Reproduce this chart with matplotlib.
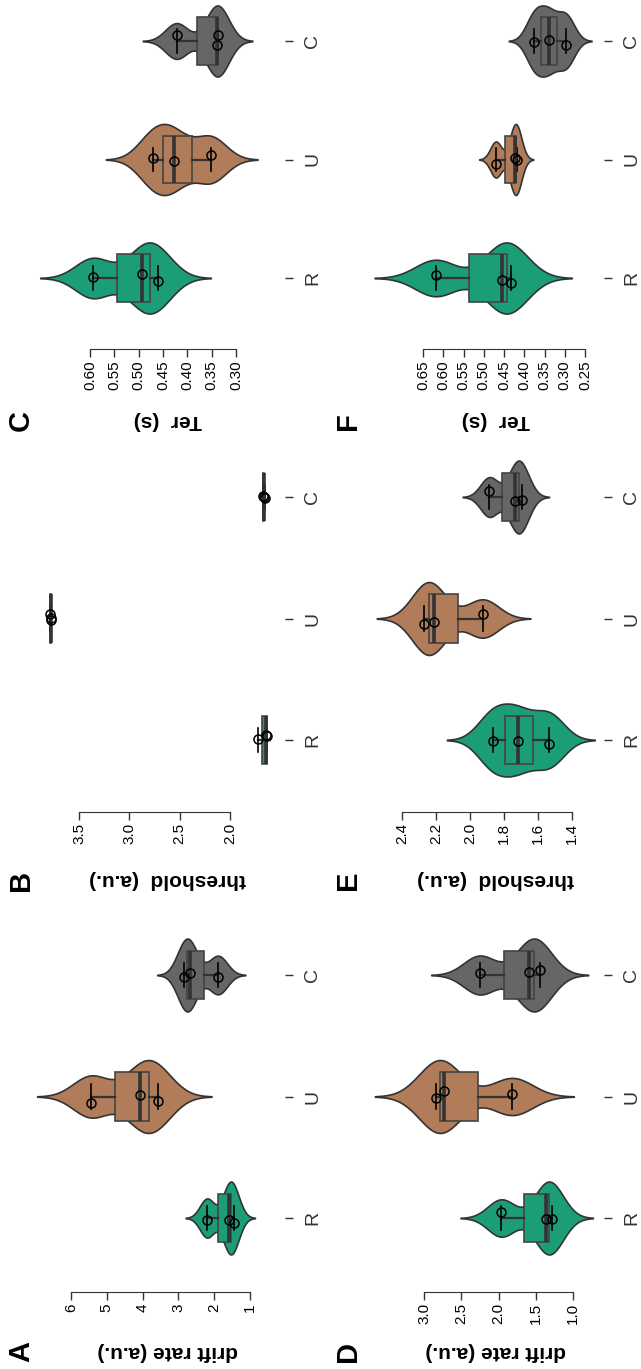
import numpy as np
import matplotlib
matplotlib.use("Agg")
import matplotlib.pyplot as plt

plt.rcParams['font.family'] = ['Liberation Sans', 'DejaVu Sans']

W, H = 641, 1369

groups = ["R", "U", "C"]
colors = ["#1b9e77", "#b07c5a", "#666666"]

# values per group (R, U, C), 3 subjects each
drift_a = [[2.20, 1.60, 1.46], [5.44, 4.08, 3.58], [2.83, 2.67, 1.89]]
thresh_b = [[1.717, 1.640, 1.633], [3.79, 3.78, 3.775], [1.672, 1.665, 1.657]]
ter_c = [[0.594, 0.494, 0.460], [0.471, 0.427, 0.352], [0.422, 0.340, 0.336]]
drift_d = [[1.961, 1.357, 1.282], [2.834, 2.736, 1.814], [2.252, 1.595, 1.447]]
thresh_e = [[1.867, 1.720, 1.535], [2.269, 2.214, 1.924], [1.886, 1.733, 1.692]]
ter_f = [[0.619, 0.454, 0.433], [0.470, 0.423, 0.419], [0.375, 0.340, 0.297]]

# small vertical scatter of the points (pixels, downwards)
jit_a = [[2, 2, 5], [6, -2, 4], [2, -2, 2]]
jit_b = [[-1, -5, -4], [-5, -1, 1], [-1, 0, 1]]
jit_c = [[-1, -4, 3], [-2, 1, -5], [-6, 4, -6]]
jit_d = [[-6, 1, 1], [1, -6, -3], [-2, -3, -5]]
jit_e = [[1, 1, 4], [5, 3, -5], [-6, 4, 3]]
jit_f = [[-3, 2, 5], [4, -2, 0], [1, -1, 4]]

ticks_a = [1, 2, 3, 4, 5, 6]
ticks_b = [2.0, 2.5, 3.0, 3.5]
ticks_c = [0.30, 0.35, 0.40, 0.45, 0.50, 0.55, 0.60]
ticks_d = [1.0, 1.5, 2.0, 2.5, 3.0]
ticks_e = [1.4, 1.6, 1.8, 2.0, 2.2, 2.4]
ticks_f = [0.25, 0.30, 0.35, 0.40, 0.45, 0.50, 0.55, 0.60, 0.65]

lab_drift = "drift rate (a.u.)"
lab_thresh = "threshold  (a.u.)"
lab_ter = "Ter  (s)"

# layout (pixels): rows -> (R centre, spacing, axis line, label y)
rows = {"top": (278, 118.5, 349, 421), "mid": (740, 121.5, 812, 880),
        "bot": (1218, 121.5, 1292, 1352)}
# cols -> (axes left, axes right, label x, letter x)
cols = {"left": (25, 285, 168, 21), "right": (335, 604, 496, 348)}

panels = [
    ("A", drift_a, jit_a, ticks_a, "{:.0f}", (71, 250), "left", "bot", lab_drift, True),
    ("B", thresh_b, jit_b, ticks_b, "{:.1f}", (79, 230), "left", "mid", lab_thresh, False),
    ("C", ter_c, jit_c, ticks_c, "{:.2f}", (90, 236), "left", "top", lab_ter, True),
    ("D", drift_d, jit_d, ticks_d, "{:.1f}", (424, 573), "right", "bot", lab_drift, True),
    ("E", thresh_e, jit_e, ticks_e, "{:.1f}", (402, 572), "right", "mid", lab_thresh, True),
    ("F", ter_f, jit_f, ticks_f, "{:.2f}", (423, 585), "right", "top", lab_ter, True),
]


def nrd0(v):
    q75, q25 = np.percentile(v, [75, 25])
    return 0.9 * min(v.std(ddof=1), (q75 - q25) / 1.34) * len(v) ** (-0.2)


fig = plt.figure(figsize=(W / 100, H / 100), dpi=100)

for letter, data, jit, ticks, fmt, tpx, col, row, label, show_violin in panels:
    yR, sp, yspine, ylab = rows[row]
    xl, xr, xlab, xlet = cols[col]
    ybot = -(yspine - yR) / sp
    ytop = 2.4
    hpx = (ytop - ybot) * sp
    ax = fig.add_axes([xl / W, (H - yspine) / H, (xr - xl) / W, hpx / H])

    hi, lo = max(ticks), min(ticks)
    scale = (tpx[1] - tpx[0]) / (hi - lo)
    ax.set_xlim(hi + (tpx[0] - xl) / scale, lo - (xr - tpx[1]) / scale)
    ax.set_ylim(ybot, ytop)

    for i, vals in enumerate(data):
        v = np.array(vals)
        if show_violin:
            bw = nrd0(v)
            grid = np.linspace(v.min() - 3 * bw, v.max() + 3 * bw, 400)
            dens = np.exp(-0.5 * ((grid[:, None] - v[None, :]) / bw) ** 2).sum(axis=1)
            dens = dens / dens.max() * 0.3
            ax.fill_between(grid, i - dens, i + dens, facecolor=colors[i],
                            edgecolor="#333333", lw=1.2, zorder=1)

    bp = ax.boxplot(data, positions=[0, 1, 2], orientation="horizontal", widths=0.4,
                    patch_artist=True, whis=(0, 100), showfliers=False,
                    boxprops=dict(edgecolor="#444444", lw=1.2),
                    medianprops=dict(color="#333333", lw=2.6),
                    whiskerprops=dict(color="#333333", lw=1.6),
                    capprops=dict(color="black", lw=1.2), zorder=2)
    for i, patch in enumerate(bp["boxes"]):
        patch.set_facecolor(colors[i])

    for i, vals in enumerate(data):
        yy = [i - j / sp for j in jit[i]]
        ax.plot(vals, yy, "o", mfc="none", mec="black", ms=6.5, mew=1.1, zorder=4)

    for s in ["top", "left", "right"]:
        ax.spines[s].set_visible(False)
    ax.spines["bottom"].set_bounds(lo, hi)
    ax.spines["bottom"].set_color("#333333")
    ax.patch.set_alpha(0)

    ax.set_xticks(ticks)
    ax.set_xticklabels([fmt.format(t) for t in ticks], rotation=90, fontsize=11)
    ax.tick_params(axis="x", length=6, width=1, color="#333333", pad=2)

    ax.yaxis.tick_right()
    ax.set_yticks([0, 1, 2])
    ax.set_yticklabels(groups, rotation=90, fontsize=14, color="#333333",
                       va="center")
    ax.tick_params(axis="y", length=6, width=1, color="#333333", pad=8)

    fig.text(xlab / W, 1 - ylab / H, label, rotation=180, ha="center", va="center",
             fontsize=15, fontweight="bold")
    fig.text(xlet / W, 1 - ylab / H, letter, rotation=90, ha="center", va="center",
             fontsize=21, fontweight="bold")

fig.savefig("out.png", dpi=100)
